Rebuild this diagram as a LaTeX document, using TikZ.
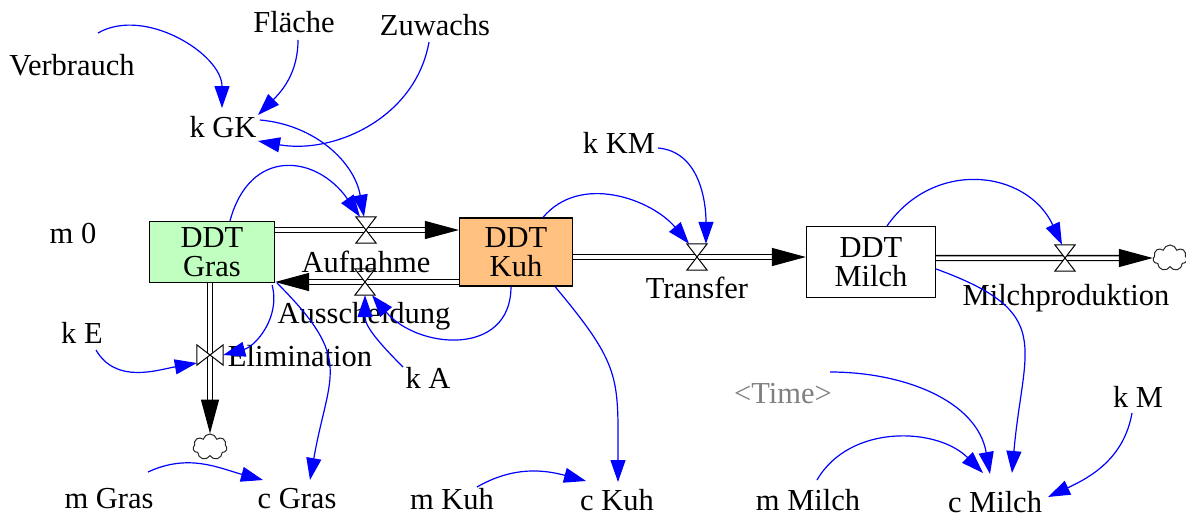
\documentclass[tikz,border=0pt]{standalone}
\usepackage{fontspec}
\setmainfont{Liberation Serif}
\usetikzlibrary{arrows.meta,shapes.symbols}
\definecolor{grasfill}{RGB}{192,255,192}
\definecolor{kuhfill}{RGB}{255,192,128}
\definecolor{linkblue}{RGB}{0,0,255}
\definecolor{shadowgray}{RGB}{128,128,128}

\begin{document}
\begin{tikzpicture}[x=1pt,y=1pt,font=\fontsize{30.5}{29}\selectfont]
	\tikzset{
		mystock/.style={rectangle, draw=black, line width=1.2pt, align=center, inner sep=0pt},
		mylabel/.style={text height=20pt, text depth=6pt, inner sep=3pt},
		myflow/.style={draw=black, double=white, line width=1.3pt, double distance=3.5pt, -{Triangle[length=34pt,width=18pt]}},
		mylink/.style={linkblue, line width=1.2pt, -{Triangle[length=22pt,width=15pt]}},
		mycloud/.style={cloud, cloud puffs=7, aspect=1.3, draw=black!85, line width=1pt, minimum width=34pt, minimum height=26pt, inner sep=0pt},
		valveh/.pic={
			\node[inner sep=0pt, minimum width=20pt, minimum height=26pt] (-v) {};
			\draw[fill=white, line width=1pt] (-v.north west) -- (-v.south east) -- (-v.south west) -- (-v.north east) -- cycle;
		},
		valvev/.pic={
			\node[inner sep=0pt, minimum width=26pt, minimum height=20pt] (-v) {};
			\draw[fill=white, line width=1pt] (-v.north west) -- (-v.south west) -- (-v.north east) -- (-v.south east) -- cycle;
		}
	}
	\useasboundingbox (0,0) rectangle (1186,-517);

	% stocks
	\node[mystock, fill=grasfill, minimum width=125pt, minimum height=61pt] (gras) at (212,-252) {DDT\\Gras};
	\node[mystock, fill=kuhfill, minimum width=113pt, minimum height=68pt] (kuh) at (516,-252) {DDT\\Kuh};
	\node[mystock, fill=white, minimum width=129pt, minimum height=71pt] (milch) at (871,-262) {DDT\\Milch};
	\node[mycloud] (cloudel) at (210,-447) {};
	\node[mycloud] (cloudmil) at (1170,-258) {};

	% flows
	\draw[myflow] ([yshift=22pt]gras.east) -- ([yshift=22pt]kuh.west);
	\draw[myflow] ([yshift=-30pt]kuh.west) -- ([yshift=-30pt]gras.east);
	\draw[myflow] ([yshift=-5pt]kuh.east) -- ([yshift=5pt]milch.west);
	\draw[myflow] ([yshift=4pt]milch.east) -- (cloudmil);
	\draw[myflow] ([xshift=-2pt]gras.south) -- (cloudel);
	\pic (vauf) at (366,-230) {valveh};
	\pic (vaus) at (365,-282) {valveh};
	\pic (vtra) at (697,-257) {valveh};
	\pic (vmil) at (1065,-258) {valveh};
	\pic (velim) at (210,-355) {valvev};

	% variables
	\node[mylabel] (verbrauch) at (72,-68) {Verbrauch};
	\node[mylabel] (flaeche) at (294,-25) {Fläche};
	\node[mylabel] (zuwachs) at (435,-28) {Zuwachs};
	\node[mylabel] (kgk) at (223,-130) {k GK};
	\node[mylabel] (kkm) at (619,-146) {k KM};
	\node[mylabel] (mnull) at (73,-236) {m 0};
	\node[mylabel] (ke) at (82,-336) {k E};
	\node[mylabel] (ka) at (428,-381) {k A};
	\node[mylabel, text=shadowgray] (time) at (783,-396) {<Time>};
	\node[mylabel] (km) at (1138,-400) {k M};
	\node[mylabel] (mgras) at (109,-501) {m Gras};
	\node[mylabel] (cgras) at (297,-501) {c Gras};
	\node[mylabel, text depth=0pt, inner sep=1pt] (mkuh) at (452,-499) {m Kuh};
	\node[mylabel] (ckuh) at (617,-503) {c Kuh};
	\node[mylabel] (mmilch) at (808,-503) {m Milch};
	\node[mylabel] (cmilch) at (995,-505) {c Milch};
	\node[mylabel] (aufnahme) at (366,-265) {Aufnahme};
	\node[mylabel] (ausscheidung) at (364,-316) {Ausscheidung};
	\node[mylabel] (elimination) at (300,-359) {Elimination};
	\node[mylabel] (transfer) at (697,-291) {Transfer};
	\node[mylabel] (milchprod) at (1066,-298) {Milchproduktion};

	% links
	\draw[mylink] ([shift={(26,35)}]verbrauch.center) to[out=30,in=90,looseness=0.95] ([shift={(-1,22)}]kgk.center);
	\draw[mylink] ([shift={(4,-15)}]flaeche.center) to[out=-90,in=45] ([shift={(35,15)}]kgk.center);
	\draw[mylink] ([shift={(-6,-14)}]zuwachs.center) to[out=-100,in=-10] ([shift={(35,-11)}]kgk.center);
	\draw[mylink] ([shift={(37,10)}]kgk.center) to[out=-5,in=100] ([xshift=-2pt]vauf-v.north);
	\draw[mylink] ([xshift=18pt]gras.north) to[out=75,in=125,looseness=1.5] ([xshift=-6pt]vauf-v.north);
	\draw[mylink] ([xshift=-5pt]kuh.south) to[out=-90,in=-50,looseness=1.3] ([xshift=7pt]vaus-v.south);
	\draw[mylink] ([shift={(-25,14)}]ka.center) to[out=135,in=-90] (vaus-v.south);
	\draw[mylink] ([shift={(-3,-2)}]gras.south east) to[out=-75,in=15] (velim-v.east);
	\draw[mylink] ([shift={(14,-14)}]ke.center) to[out=-60,in=190] ([yshift=-8pt]velim-v.west);
	\draw[mylink] ([xshift=2pt]gras.south east) to[out=-45,in=80,looseness=1.4] ([shift={(13,21)}]cgras.center);
	\draw[mylink] ([shift={(39,29)}]mgras.center) to[out=25,in=165] ([shift={(-34,21)}]cgras.center);
	\draw[mylink] ([xshift=27pt]kuh.north) to[out=50,in=130] ([xshift=-8pt]vtra-v.north);
	\draw[mylink] ([shift={(39,-2)}]kkm.center) to[out=-5,in=90] ([xshift=9pt]vtra-v.north);
	\draw[mylink] ([xshift=39pt]kuh.south) to[out=-50,in=90,looseness=1.3] ([shift={(1,21)}]ckuh.center);
	\draw[mylink] ([shift={(25,12)}]mkuh.center) to[out=30,in=165] ([shift={(-31,22)}]ckuh.center);
	\draw[mylink] ([xshift=16pt]milch.north) to[out=55,in=115,looseness=1.2] ([xshift=-3pt]vmil-v.north);
	\draw[mylink] ([yshift=-7pt]milch.east) to[out=-20,in=85,looseness=1.5] ([shift={(17,32)}]cmilch.center);
	\draw[mylink] ([shift={(47,24)}]time.center) to[out=0,in=100] ([shift={(-5,31)}]cmilch.center);
	\draw[mylink] ([shift={(9,23)}]mmilch.center) to[out=60,in=135] ([shift={(-12,32)}]cmilch.center);
	\draw[mylink] ([shift={(-6,-13)}]km.center) to[out=-100,in=25] ([shift={(53,8)}]cmilch.center);
\end{tikzpicture}
\end{document}
